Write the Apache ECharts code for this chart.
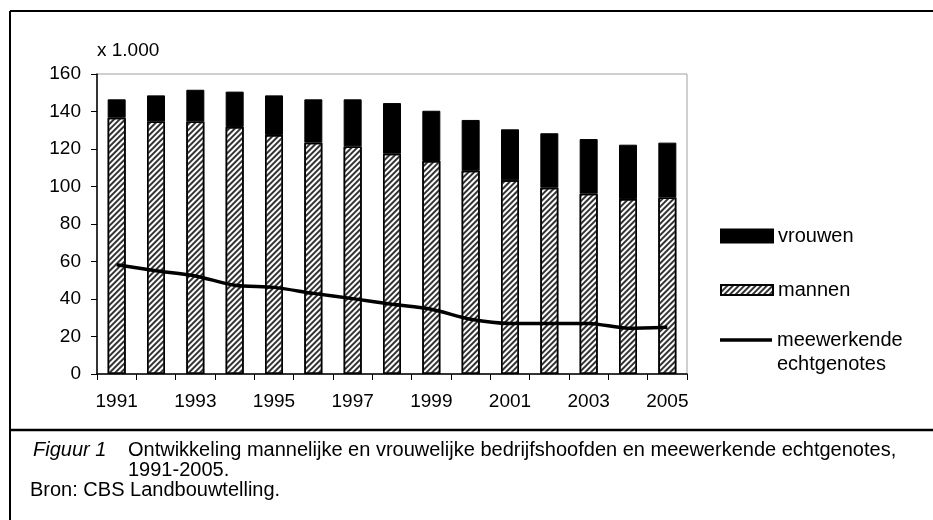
<!DOCTYPE html>
<html>
<head>
<meta charset="utf-8">
<script src="https://cdn.jsdelivr.net/npm/echarts@6/dist/echarts.min.js"></script>
<style>
html,body{margin:0;padding:0;background:#fff;}
#chart{width:933px;height:520px;}
</style>
</head>
<body>
<div id="chart"></div>
<script>
// ---- data ----
const years = ['1991','1992','1993','1994','1995','1996','1997','1998','1999','2000','2001','2002','2003','2004','2005'];
const mannen = [136.7,134.7,134.7,131.7,127.5,123.4,121.4,117.5,113.6,108.4,103.3,99.4,96.2,93.3,94.2];
const vrouwen = [9.8,13.9,16.9,18.9,21.1,23.1,25.1,27.0,26.8,27.1,27.2,29.0,29.1,29.0,29.2];
const meewerkende = [58.3,55.1,52.3,47.3,46.2,43.0,40.2,37.2,34.5,29.2,27.0,27.0,27.0,24.4,24.9];
const yTicks = [0,20,40,60,80,100,120,140,160];
const unitLabel = 'x 1.000';
const captionLabel = 'Figuur 1';
const captionText = 'Ontwikkeling mannelijke en vrouwelijke bedrijfshoofden en meewerkende echtgenotes,';
const captionText2 = '1991-2005.';
const sourceText = 'Bron: CBS Landbouwtelling.';

const chartFont = '"Liberation Sans", Arial, sans-serif';
const capFont = '"Liberation Sans", Arial, sans-serif';

const hatch = {
  symbol: 'rect',
  symbolSize: 1,
  color: '#333',
  dashArrayX: [1, 0],
  dashArrayY: [1.6, 1.6],
  rotation: -Math.PI / 4
};

const legendText = {color: '#000', fontFamily: chartFont, fontSize: 20, lineHeight: 24};

const chart = echarts.init(document.getElementById('chart'), null, {renderer: 'canvas'});
chart.setOption({
  animation: false,
  backgroundColor: '#fff',
  grid: {left: 97, top: 74, width: 590, height: 300, show: true, borderColor: '#a0a0a0', borderWidth: 1, backgroundColor: 'transparent'},
  xAxis: {
    type: 'category',
    data: years,
    boundaryGap: true,
    axisLine: {lineStyle: {color: '#000', width: 1.5}},
    axisTick: {show: true, interval: 0, length: 6, lineStyle: {color: '#000', width: 1}},
    axisLabel: {interval: 1, color: '#000', fontFamily: chartFont, fontSize: 19, margin: 18},
    splitLine: {show: false}
  },
  yAxis: {
    type: 'value',
    min: yTicks[0],
    max: yTicks[yTicks.length - 1],
    interval: yTicks[1] - yTicks[0],
    name: unitLabel,
    nameLocation: 'end',
    nameGap: 14,
    nameTextStyle: {color: '#000', fontFamily: chartFont, fontSize: 19, align: 'left'},
    axisLine: {show: true, lineStyle: {color: '#000', width: 1.5}},
    axisTick: {show: true, length: 6, lineStyle: {color: '#000', width: 1}},
    axisLabel: {color: '#000', fontFamily: chartFont, fontSize: 19, margin: 16},
    splitLine: {show: false}
  },
  legend: [
    {data: [{name: 'vrouwen', icon: 'rect'}], orient: 'vertical', left: 720, top: 224, padding: 0,
     itemWidth: 52, itemHeight: 13, itemGap: 0, textStyle: legendText, selectedMode: false},
    {data: [{name: 'mannen', icon: 'rect'}], orient: 'vertical', left: 720, top: 278, padding: 0,
     itemWidth: 52, itemHeight: 10, itemGap: 0, textStyle: legendText, selectedMode: false},
    {data: [{name: 'meewerkende echtgenotes', icon: 'rect'}], orient: 'vertical', left: 720, top: 304, padding: 0,
     itemWidth: 52, itemHeight: 3.5, itemGap: 0,
     formatter: function (n) { return ' \n' + n.replace(' ', '\n'); },
     textStyle: legendText, selectedMode: false}
  ],
  series: [
    {
      name: 'mannen', type: 'bar', stack: 'tot', data: mannen, barWidth: 18,
      itemStyle: {color: '#fff', borderColor: '#000', borderWidth: 1.5, decal: hatch}
    },
    {
      name: 'vrouwen', type: 'bar', stack: 'tot', data: vrouwen, barWidth: 18,
      itemStyle: {color: '#000', borderColor: '#000', borderWidth: 1}
    },
    {
      name: 'meewerkende echtgenotes', type: 'line', data: meewerkende, smooth: 0.25,
      symbol: 'none', lineStyle: {color: '#000', width: 3.5}, itemStyle: {color: '#000'}, z: 5
    }
  ],
  graphic: [
    {type: 'line', shape: {x1: 10, y1: 11, x2: 940, y2: 11}, style: {stroke: '#000', lineWidth: 2}, silent: true},
    {type: 'line', shape: {x1: 10, y1: 11, x2: 10, y2: 530}, style: {stroke: '#000', lineWidth: 2}, silent: true},
    {type: 'line', shape: {x1: 10, y1: 430, x2: 940, y2: 430}, style: {stroke: '#000', lineWidth: 2.5}, silent: true},
    {type: 'text', left: 33, top: 440, style: {text: captionLabel, font: 'italic 20px ' + capFont, fill: '#000'}},
    {type: 'text', left: 128, top: 440, style: {text: captionText, font: '20px ' + capFont, fill: '#000'}},
    {type: 'text', left: 128, top: 460, style: {text: captionText2, font: '20px ' + capFont, fill: '#000'}},
    {type: 'text', left: 30, top: 480, style: {text: sourceText, font: '20px ' + capFont, fill: '#000'}}
  ]
});
</script>
</body>
</html>
